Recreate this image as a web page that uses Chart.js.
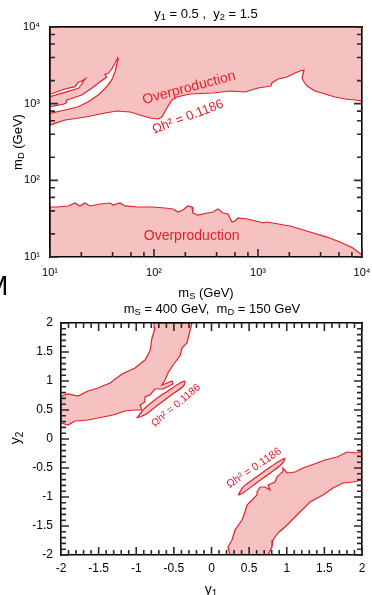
<!DOCTYPE html>
<html lang="en">
<head>
<meta charset="UTF-8">
<title>Relic density regions</title>
<script src="https://cdn.jsdelivr.net/npm/chart.js"></script>
<style>
  body { margin: 0; width: 372px; height: 595px; overflow: hidden; background: #fff; position: relative;
         font-family: "Liberation Sans", Arial, sans-serif; }
  canvas { position: absolute; left: 0; }
  .lbl { position: absolute; transform: translate(-50%, -50%); white-space: pre; font-size: 13px; line-height: 1; color: #000; }
  .lbl sub { font-size: 72%; vertical-align: -0.3em; line-height: 0; }
  .rot { transform: translate(-50%, -50%) rotate(-90deg); }
</style>
</head>
<body>
<canvas id="topChart" width="372" height="300" style="top:0"></canvas>
<canvas id="bottomChart" width="372" height="295" style="top:300px"></canvas>

<div class="lbl" style="left:206px;top:13px">y<sub>1</sub> = 0.5 ,  y<sub>2</sub> = 1.5</div>
<div class="lbl" style="left:206px;top:292px">m<sub>S</sub> (GeV)</div>
<div class="lbl rot" style="left:17px;top:142px">m<sub>D</sub> (GeV)</div>
<div class="lbl" style="left:212px;top:308px">m<sub>S</sub> = 400 GeV,  m<sub>D</sub> = 150 GeV</div>
<div class="lbl rot" style="left:15px;top:438px;font-size:14px">y<sub>2</sub></div>
<div class="lbl" style="left:211px;top:589px;font-size:14px">y<sub>1</sub></div>
<div style="position:absolute;left:-15px;top:272px;font-size:28px;line-height:1">M</div>

<script>
const FONT = '"Liberation Sans", Arial, sans-serif';
const RED = '#e3202a';
const PINK = '#f5c1c1';

// ---- top panel (y1 = 0.5, y2 = 1.5), mS and mD in GeV ----
const upperRegionMS = [10, 10000, 10000, 8570, 6870, 5500, 4410, 3530, 2960, 2770, 2650, 2770, 2540, 2270, 1900, 1560, 1360, 1330,
  1000, 750, 538, 369, 222, 166, 149, 133, 119, 109, 92, 73, 59, 44, 34, 22, 14, 10];
const upperRegionMD = [10000, 10000, 1084, 1117, 1151, 1222, 1337, 1462, 1700, 1917, 2163, 2748, 2667, 2512, 2228, 2098, 1862, 1700,
  1600, 1419, 1462, 1377, 1337, 1222, 1117, 879, 670, 631, 650, 711, 778, 802, 755, 670, 612, 527];

// white band cut out of the upper region
const bandHoleMS = [10, 13.9, 18.7, 23.3, 29.1, 35.1, 39.2, 42.2, 43.8, 45.4, 44.8, 42.2, 39.2, 36.4, 33.8, 35.1, 30.3, 25.2, 20.2, 15.6, 14.5, 14.2, 13.4, 10];
const bandHoleMD = [748, 827, 912, 1061, 1297, 1665, 2037, 2612, 3194, 3827, 3981, 3363, 2833, 2489, 2415, 2207, 1935, 1585, 1297, 1151, 1117, 1012, 982, 912];
const sliverHoleMS = [10, 13.9, 17.4, 18.7, 20.2, 21.7, 20.9, 20.2, 18.7, 13.9, 10];
const sliverHoleMD = [1325, 1552, 1665, 1900, 1976, 2098, 1976, 1790, 1585, 1406, 1233];

const lowerRegionMS = [10, 11.9, 14.9, 17.4, 19.4, 21.7, 24.2, 30.3, 37.8, 40.4, 47.1, 52.6, 70.2, 95.7, 128, 152, 170, 190, 212, 232,
  237, 265, 324, 369, 412, 460, 515, 562, 601, 643, 784, 1045, 1117, 1222, 2032, 3162, 4603, 6137, 8185, 10000, 10000, 10];
const lowerRegionMD = [44.9, 44.9, 46.3, 50.6, 46.3, 50.6, 46.3, 49.1, 50.6, 47.7, 50.6, 46.3, 44.9, 44.9, 43.6, 42.3, 38.6, 41.0, 46.3, 44.9,
  37.5, 35.3, 37.5, 38.6, 42.3, 37.5, 36.4, 28.6, 29.5, 32.3, 31.3, 28.6, 27.8, 28.6, 25.4, 21.2, 18.2, 15.7, 13.1, 10.6, 10, 10];

const logMajor = [10, 100, 1000, 10000];
const logMajorLabels = ['10¹', '10²', '10³', '10⁴'];
const logMinor = [20, 40, 60, 80, 200, 400, 600, 800, 2000, 4000, 6000, 8000];

// ---- bottom panel (mS = 400 GeV, mD = 150 GeV), y1 / y2 ----
const leftBandY1 = [-2, -1.907, -1.774, -1.641, -1.508, -1.349, -1.189, -1.017, -0.884, -0.817, -0.791, -0.751, -0.764, -0.259, -0.286,
  -0.326, -0.392, -0.419, -0.512, -0.578, -0.618, -0.658, -0.525, -0.512, -0.645, -0.751, -0.817, -0.884, -0.884, -0.950, -0.924, -1.017,
  -1.150, -1.309, -1.508, -1.641, -1.814, -1.907, -2];
const leftBandY2 = [0.741, 0.776, 0.741, 0.828, 0.879, 0.966, 1.121, 1.224, 1.362, 1.517, 1.741, 1.914, 2, 2, 1.862,
  1.655, 1.569, 1.431, 1.276, 1.138, 1.017, 0.931, 1.0, 0.948, 0.862, 0.862, 0.759, 0.724, 0.638, 0.586, 0.5, 0.5,
  0.483, 0.414, 0.362, 0.328, 0.310, 0.241, 0.276];
const upperLoopY1 = [-0.994, -0.884, -0.751, -0.574, -0.419, -0.352, -0.375, -0.529, -0.707, -0.884];
const upperLoopY2 = [0.362, 0.534, 0.678, 0.833, 0.966, 0.995, 0.909, 0.764, 0.591, 0.419];

const rightBandY1 = [0.246, 0.219, 0.272, 0.312, 0.405, 0.445, 0.472, 0.538, 0.605, 0.605, 0.645, 0.711, 0.777, 0.751, 0.844, 0.870,
  0.937, 0.950, 1.003, 1.110, 1.216, 1.402, 1.508, 1.668, 1.801, 1.934, 2.0, 2.0, 1.880, 1.748, 1.615, 1.482, 1.309, 1.176, 1.070,
  0.977, 0.884, 0.817, 0.804, 0.751];
const rightBandY2 = [-2, -1.862, -1.741, -1.569, -1.397, -1.259, -1.138, -1.052, -0.966, -0.914, -0.828, -0.828, -0.879, -0.793, -0.741, -0.655,
  -0.569, -0.5, -0.586, -0.569, -0.5, -0.414, -0.362, -0.310, -0.224, -0.241, -0.224, -0.707, -0.741, -0.759, -0.845, -0.966, -1.086, -1.259, -1.397,
  -1.517, -1.621, -1.741, -1.862, -2];
const lowerLoopY1 = [0.356, 0.423, 0.601, 0.777, 0.910, 0.977, 0.933, 0.777, 0.601, 0.423];
const lowerLoopY2 = [-0.966, -0.822, -0.650, -0.488, -0.374, -0.333, -0.431, -0.591, -0.753, -0.926];

const linMajor = [-2, -1.5, -1, -0.5, 0, 0.5, 1, 1.5, 2];
const linMinor = [-1.9, -1.8, -1.7, -1.6, -1.4, -1.3, -1.2, -1.1, -0.9, -0.8, -0.7, -0.6, -0.4, -0.3, -0.2, -0.1,
  0.1, 0.2, 0.3, 0.4, 0.6, 0.7, 0.8, 0.9, 1.1, 1.2, 1.3, 1.4, 1.6, 1.7, 1.8, 1.9];

// closed outline, filled inside
function region(xs, ys, fillColor, order, tension) {
  const pts = xs.map((x, i) => ({ x: x, y: ys[i] }));
  pts.push(pts[0]);
  return {
    data: pts, borderColor: RED, borderWidth: 1.2, backgroundColor: fillColor,
    fill: 'shape', pointRadius: 0, tension: tension || 0, order: order
  };
}

// frame axis; labelled axes carry the layout size
function axis(type, position, min, max, values, o) {
  o = o || {};
  const ticks = { display: !!o.labels, autoSkip: false, maxRotation: 0, minRotation: 0, padding: o.pad || 0,
                  color: '#000', font: { family: FONT, size: o.fontSize || 12 } };
  if (o.labels) ticks.callback = v => o.labels[values.indexOf(v)];
  return {
    type: type, position: position, min: min, max: max,
    afterBuildTicks: s => { s.ticks = values.map(v => ({ value: v })); },
    afterFit: s => {
      if (s.isHorizontal()) s.height = o.size || 0; else s.width = o.size || 0;
      // labels may hang over the frame, don't let them shrink the plot
      s.paddingLeft = s.paddingRight = s.paddingTop = s.paddingBottom = 0;
    },
    grid: { display: false, drawTicks: false },
    border: { display: true, color: '#000', width: 1.6, z: 2 },
    ticks: ticks
  };
}

// inward tick marks on the frame, kept as plain arrays outside the option resolver
const tickSets = {
  topChart: [
    { axis: 'x', values: logMajor, len: 8, sides: ['bottom'] },
    { axis: 'x', values: logMinor, len: 5, sides: ['bottom'] },
    { axis: 'y', values: logMajor, len: 8, sides: ['left', 'right'] },
    { axis: 'y', values: logMinor, len: 5, sides: ['left', 'right'] }
  ],
  bottomChart: [
    { axis: 'x', values: linMajor, len: 8, sides: ['bottom', 'top'] },
    { axis: 'x', values: linMinor, len: 5, sides: ['bottom', 'top'] },
    { axis: 'y', values: linMajor, len: 8, sides: ['left', 'right'] },
    { axis: 'y', values: linMinor, len: 5, sides: ['left', 'right'] }
  ]
};

const tickMarks = {
  id: 'tickMarks',
  afterDraw(chart) {
    const ctx = chart.ctx, a = chart.chartArea;
    const sets = tickSets[chart.canvas.id] || [];
    ctx.save();
    ctx.strokeStyle = '#2a2a2a';
    ctx.lineWidth = 1.6;
    sets.forEach(set => {
      const scale = chart.scales[set.axis];
      set.values.forEach(v => {
        const p = scale.getPixelForValue(v);
        ctx.beginPath();
        set.sides.forEach(side => {
          if (side === 'bottom') { ctx.moveTo(p, a.bottom); ctx.lineTo(p, a.bottom - set.len); }
          if (side === 'top') { ctx.moveTo(p, a.top); ctx.lineTo(p, a.top + set.len); }
          if (side === 'left') { ctx.moveTo(a.left, p); ctx.lineTo(a.left + set.len, p); }
          if (side === 'right') { ctx.moveTo(a.right, p); ctx.lineTo(a.right - set.len, p); }
        });
        ctx.stroke();
      });
    });
    ctx.restore();
  }
};

const annotate = {
  id: 'annotate',
  afterDatasetsDraw(chart, args, opts) {
    const ctx = chart.ctx, xs = chart.scales.x, ys = chart.scales.y;
    opts.items.forEach(it => {
      ctx.save();
      ctx.translate(xs.getPixelForValue(it.x), ys.getPixelForValue(it.y));
      ctx.rotate(it.angle * Math.PI / 180);
      ctx.font = it.size + 'px ' + FONT;
      ctx.fillStyle = RED;
      ctx.textAlign = 'center';
      ctx.textBaseline = 'middle';
      ctx.fillText(it.text, 0, 0);
      ctx.restore();
    });
  }
};

const common = {
  responsive: false, animation: false, events: [],
  plugins: { legend: { display: false }, tooltip: { enabled: false } }
};

new Chart(document.getElementById('topChart'), {
  type: 'line',
  data: {
    datasets: [
      region(bandHoleMS, bandHoleMD, '#ffffff', 0),
      region(sliverHoleMS, sliverHoleMD, '#ffffff', 0),
      region(upperRegionMS, upperRegionMD, PINK, 1),
      region(lowerRegionMS, lowerRegionMD, PINK, 1)
    ]
  },
  options: Object.assign({}, common, {
    layout: { padding: { top: 27, right: 10, left: 0, bottom: 0 } },
    scales: {
      x: axis('logarithmic', 'bottom', 10, 10000, logMajor, { labels: logMajorLabels, size: 43, pad: 9, fontSize: 11 }),
      x3: axis('logarithmic', 'top', 10, 10000, logMajor),
      y: axis('logarithmic', 'left', 10, 10000, logMajor, { labels: logMajorLabels, size: 50, pad: 10, fontSize: 11 }),
      y3: axis('logarithmic', 'right', 10, 10000, logMajor)
    },
    plugins: Object.assign({}, common.plugins, {
      annotate: { items: [
        { text: 'Overproduction', x: 217, y: 1600, angle: -15, size: 14 },
        { text: 'Ωh² = 0.1186', x: 212, y: 670, angle: -21, size: 13 },
        { text: 'Overproduction', x: 230, y: 18.8, angle: 0, size: 14 }
      ] }
    })
  }),
  plugins: [tickMarks, annotate]
});

new Chart(document.getElementById('bottomChart'), {
  type: 'line',
  data: {
    datasets: [
      region(upperLoopY1, upperLoopY2, PINK, 0, 0.3),
      region(lowerLoopY1, lowerLoopY2, PINK, 0, 0.3),
      region(leftBandY1, leftBandY2, PINK, 1),
      region(rightBandY1, rightBandY2, PINK, 1)
    ]
  },
  options: Object.assign({}, common, {
    layout: { padding: { top: 23, right: 10, left: 0, bottom: 0 } },
    scales: {
      x: axis('linear', 'bottom', -2, 2, linMajor, { labels: linMajor.map(String), size: 40, pad: 6 }),
      x3: axis('linear', 'top', -2, 2, linMajor),
      y: axis('linear', 'left', -2, 2, linMajor, { labels: linMajor.map(String), size: 61, pad: 8 }),
      y3: axis('linear', 'right', -2, 2, linMajor)
    },
    plugins: Object.assign({}, common.plugins, {
      annotate: { items: [
        { text: 'Ωh² = 0.1186', x: -0.472, y: 0.578, angle: -40, size: 10.5 },
        { text: 'Ωh² = 0.1186', x: 0.565, y: -0.5, angle: -34, size: 11 }
      ] }
    })
  }),
  plugins: [tickMarks, annotate]
});
</script>
</body>
</html>
